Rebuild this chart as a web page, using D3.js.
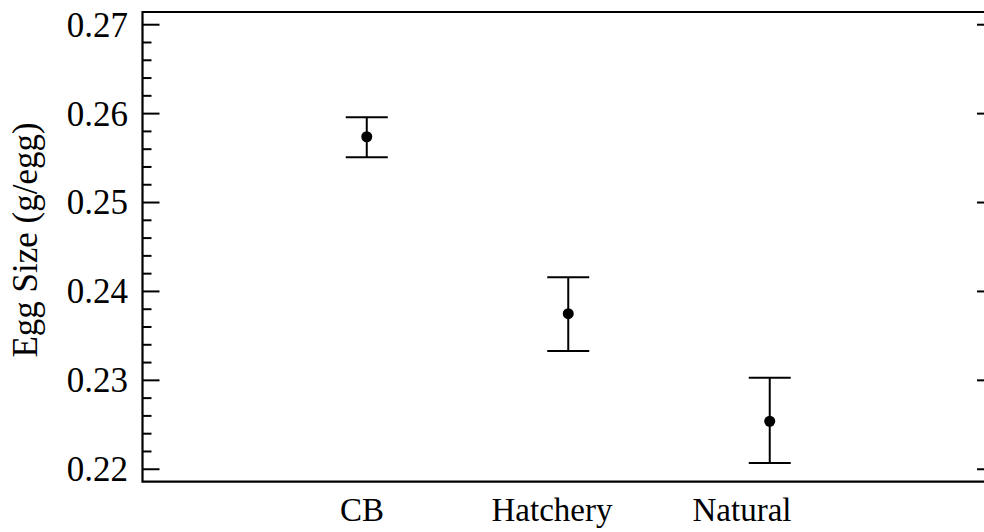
<!DOCTYPE html>
<html>
<head>
<meta charset="utf-8">
<script src="https://cdn.jsdelivr.net/npm/d3@7"></script>
<style>
  body { margin: 0; background: #fff; }
  text { font-family: "Liberation Serif", "Times New Roman", serif; fill: #000; }
</style>
</head>
<body>
<div id="chart"></div>
<script>
var categories = ['CB', 'Hatchery', 'Natural'];
var means = [0.2574, 0.2375, 0.2254];
var upper = [0.2596, 0.2416, 0.2303];
var lower = [0.2551, 0.2333, 0.2207];
var yTicks = [0.22, 0.23, 0.24, 0.25, 0.26, 0.27];

var width = 984, height = 532;
var plotLeft = 142.5, plotRight = 994, plotTop = 12, plotBottom = 481.7;

var svg = d3.select('#chart').append('svg')
    .attr('width', width).attr('height', height);

var x = d3.scalePoint().domain(categories).range([plotLeft, plotRight]).padding(1.113);
var xLabel = d3.scalePoint().domain(categories).range([362, 742]);
var y = d3.scaleLinear().domain([0.2186, 0.27143]).range([plotBottom, plotTop]);

var minorTicks = d3.range(0.218, 0.2714, 0.002).filter(function (v) {
    return v >= 0.2186 && !yTicks.some(function (t) { return Math.abs(t - v) < 1e-6; });
});

// left axis: major + minor ticks
svg.append('g').selectAll('line')
   .data(yTicks).enter().append('line')
   .attr('x1', plotLeft).attr('x2', plotLeft + 17)
   .attr('y1', function (d) { return y(d); })
   .attr('y2', function (d) { return y(d); })
   .attr('stroke', '#000').attr('stroke-width', 2);

svg.append('g').selectAll('line')
   .data(minorTicks).enter().append('line')
   .attr('x1', plotLeft).attr('x2', plotLeft + 9)
   .attr('y1', function (d) { return y(d); })
   .attr('y2', function (d) { return y(d); })
   .attr('stroke', '#000').attr('stroke-width', 2);

// right axis major ticks
svg.append('g').selectAll('line')
   .data(yTicks).enter().append('line')
   .attr('x1', plotRight - 17).attr('x2', plotRight)
   .attr('y1', function (d) { return y(d); })
   .attr('y2', function (d) { return y(d); })
   .attr('stroke', '#000').attr('stroke-width', 2);

svg.append('g').selectAll('text')
   .data(yTicks).enter().append('text')
   .attr('x', 128)
   .attr('y', function (d) { return y(d); })
   .attr('dy', '0.34em')
   .attr('text-anchor', 'end')
   .style('font-size', '35px')
   .text(function (d) { return d3.format('.2f')(d); });

// frame
svg.append('path')
   .attr('d', 'M' + plotRight + ',' + plotTop + 'H' + plotLeft + 'V' + plotBottom + 'H' + plotRight)
   .attr('fill', 'none').attr('stroke', '#000').attr('stroke-width', 2.2);

// error bars
var rows = categories.map(function (c, i) {
    return { cat: c, mean: means[i], hi: upper[i], lo: lower[i] };
});

var g = svg.append('g').selectAll('g')
   .data(rows).enter().append('g');

g.append('line')
   .attr('x1', function (d) { return x(d.cat); })
   .attr('x2', function (d) { return x(d.cat); })
   .attr('y1', function (d) { return y(d.hi); })
   .attr('y2', function (d) { return y(d.lo); })
   .attr('stroke', '#000').attr('stroke-width', 2);

['hi', 'lo'].forEach(function (k) {
    g.append('line')
       .attr('x1', function (d) { return x(d.cat) - 21; })
       .attr('x2', function (d) { return x(d.cat) + 21; })
       .attr('y1', function (d) { return y(d[k]); })
       .attr('y2', function (d) { return y(d[k]); })
       .attr('stroke', '#000').attr('stroke-width', 2);
});

g.append('circle')
   .attr('cx', function (d) { return x(d.cat); })
   .attr('cy', function (d) { return y(d.mean); })
   .attr('r', 5.5)
   .attr('fill', '#000');

// x labels
svg.append('g').selectAll('text')
   .data(categories).enter().append('text')
   .attr('x', function (d) { return xLabel(d); })
   .attr('y', 521)
   .attr('text-anchor', 'middle')
   .style('font-size', '33px')
   .text(function (d) { return d; });

// y title
svg.append('text')
   .attr('transform', 'translate(37,240) rotate(-90)')
   .attr('text-anchor', 'middle')
   .style('font-size', '35px')
   .text('Egg Size (g/egg)');
</script>
</body>
</html>
